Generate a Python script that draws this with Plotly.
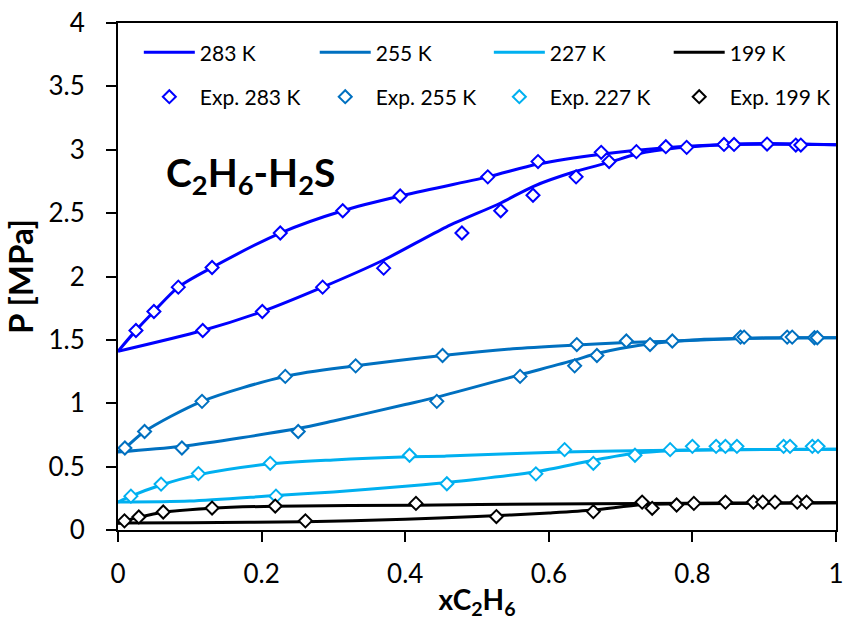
import plotly.graph_objects as go

# ---- model curves (bubble / dew branches) ----
x283_bub = [0, 0.025, 0.05, 0.084, 0.131, 0.226, 0.313, 0.393, 0.515, 0.585, 0.673, 0.763, 0.844, 0.904, 1.0]
p283_bub = [1.41, 1.575, 1.724, 1.916, 2.071, 2.343, 2.519, 2.635, 2.786, 2.887, 2.965, 3.016, 3.042, 3.05, 3.04]
x283_dew = [0, 0.118, 0.201, 0.285, 0.37, 0.457, 0.533, 0.578, 0.638, 0.684, 0.722, 0.78, 0.85, 1.0]
p283_dew = [1.41, 1.574, 1.724, 1.916, 2.13, 2.39, 2.58, 2.71, 2.83, 2.90, 2.965, 3.015, 3.04, 3.04]

x255_bub = [0, 0.0096, 0.037, 0.117, 0.233, 0.331, 0.452, 0.55, 0.639, 0.708, 0.772, 0.867, 0.94, 1.0]
p255_bub = [0.615, 0.647, 0.777, 1.015, 1.212, 1.295, 1.377, 1.43, 1.46, 1.48, 1.49, 1.51, 1.517, 1.517]
x255_dew = [0, 0.089, 0.25, 0.3, 0.4, 0.444, 0.56, 0.636, 0.667, 0.741, 0.8, 0.9, 1.0]
p255_dew = [0.615, 0.66, 0.80, 0.86, 0.99, 1.048, 1.225, 1.34, 1.393, 1.47, 1.50, 1.515, 1.517]

x227_bub = [0, 0.018, 0.06, 0.112, 0.21, 0.3, 0.406, 0.457, 0.62, 0.77, 0.9, 1.0]
p227_bub = [0.22, 0.267, 0.355, 0.435, 0.52, 0.553, 0.577, 0.583, 0.616, 0.63, 0.636, 0.637]
x227_dew = [0, 0.1, 0.22, 0.3, 0.4, 0.458, 0.5, 0.582, 0.662, 0.72, 0.77, 0.85, 1.0]
p227_dew = [0.22, 0.228, 0.272, 0.30, 0.345, 0.375, 0.40, 0.46, 0.55, 0.605, 0.625, 0.633, 0.637]

x199_bub = [0, 0.009, 0.029, 0.063, 0.131, 0.219, 0.415, 0.6, 0.73, 0.85, 1.0]
p199_bub = [0.05, 0.07, 0.10, 0.14, 0.172, 0.188, 0.196, 0.205, 0.21, 0.213, 0.215]
x199_dew = [0, 0.1, 0.26, 0.4, 0.5, 0.6, 0.662, 0.73, 0.8, 1.0]
p199_dew = [0.055, 0.058, 0.066, 0.085, 0.106, 0.135, 0.158, 0.20, 0.208, 0.215]

# ---- experimental points ----
xexp283 = [0.025, 0.05, 0.084, 0.131, 0.226, 0.313, 0.393, 0.515, 0.585, 0.673, 0.722, 0.763, 0.792,
           0.844, 0.858, 0.904, 0.944, 0.951,
           0.118, 0.201, 0.285, 0.37, 0.479, 0.533, 0.578, 0.638, 0.684]
pexp283 = [1.574, 1.724, 1.916, 2.071, 2.343, 2.519, 2.635, 2.786, 2.907, 2.98, 2.985, 3.024, 3.019,
           3.042, 3.042, 3.045, 3.037, 3.037,
           1.574, 1.724, 1.916, 2.066, 2.343, 2.519, 2.641, 2.786, 2.907]

xexp255 = [0.0096, 0.037, 0.117, 0.233, 0.331, 0.452, 0.639, 0.708, 0.772, 0.867, 0.872, 0.932, 0.939,
           0.970, 0.974,
           0.089, 0.251, 0.444, 0.560, 0.636, 0.667, 0.741]
pexp255 = [0.647, 0.777, 1.015, 1.212, 1.295, 1.377, 1.463, 1.491, 1.491, 1.522, 1.522, 1.522, 1.522,
           1.517, 1.517,
           0.647, 0.777, 1.015, 1.212, 1.295, 1.377, 1.463]

xexp227 = [0.018, 0.06, 0.112, 0.212, 0.406, 0.622, 0.80, 0.833, 0.846, 0.862, 0.927, 0.936, 0.967, 0.975,
           0.220, 0.458, 0.582, 0.662, 0.720, 0.769]
pexp227 = [0.267, 0.362, 0.445, 0.526, 0.590, 0.634, 0.660, 0.660, 0.660, 0.660, 0.660, 0.660, 0.660, 0.660,
           0.267, 0.365, 0.443, 0.526, 0.590, 0.634]

xexp199 = [0.009, 0.029, 0.063, 0.131, 0.219, 0.415, 0.730, 0.778, 0.802, 0.846, 0.885, 0.898, 0.915,
           0.946, 0.959,
           0.261, 0.527, 0.662, 0.744]
pexp199 = [0.072, 0.103, 0.142, 0.173, 0.189, 0.210, 0.220, 0.197, 0.210, 0.220, 0.220, 0.220, 0.220,
           0.220, 0.220,
           0.072, 0.106, 0.145, 0.171]

x_ticks = [0, 0.2, 0.4, 0.6, 0.8, 1]
x_tick_text = ["0", "0.2", "0.4", "0.6", "0.8", "1"]
y_ticks = [0, 0.5, 1, 1.5, 2, 2.5, 3, 3.5, 4]
y_tick_text = ["0", "0.5", "1", "1.5", "2", "2.5", "3", "3.5", "4"]

FONT = "Lato"

series = [
    ("283 K", "#0000FF", x283_bub, p283_bub, x283_dew, p283_dew, xexp283, pexp283),
    ("255 K", "#0070C0", x255_bub, p255_bub, x255_dew, p255_dew, xexp255, pexp255),
    ("227 K", "#00B0F0", x227_bub, p227_bub, x227_dew, p227_dew, xexp227, pexp227),
    ("199 K", "#000000", x199_bub, p199_bub, x199_dew, p199_dew, xexp199, pexp199),
]

# legend grid: one legend box per entry (4 columns x 2 rows)
legend_cols = [0.029, 0.274, 0.5165, 0.767]
legend_rows = [0.9415, 0.854]

fig = go.Figure()

# model lines: bubble and dew branches of one isotherm joined by a gap
for i, (name, col, xb, pb, xd, pd_, _, _) in enumerate(series):
    fig.add_trace(go.Scatter(
        x=xb + [None] + xd, y=pb + [None] + pd_,
        mode="lines", name=name, connectgaps=False, showlegend=True,
        line=dict(color=col, width=3, shape="spline", smoothing=0.8),
        legend="legend" if i == 0 else f"legend{i + 1}",
    ))

# experimental points
for i, (name, col, _, _, _, _, xe, pe) in enumerate(series):
    fig.add_trace(go.Scatter(
        x=xe, y=pe, mode="markers", name="Exp. " + name, showlegend=True,
        marker=dict(symbol="diamond", size=10, color="white",
                    line=dict(color=col, width=2)),
        legend=f"legend{i + 5}",
    ))

fig.add_annotation(
    text="<b>C<sub>2</sub>H<sub>6</sub>-H<sub>2</sub>S</b>",
    xref="paper", yref="paper", x=0.064, y=0.70, xanchor="left", yanchor="middle",
    showarrow=False, font=dict(family=FONT, size=39, color="black"),
)

legend_style = dict(
    orientation="h", xanchor="left", yanchor="middle",
    bgcolor="rgba(0,0,0,0)", borderwidth=0,
    font=dict(family=FONT, size=21, color="black"),
    itemwidth=51,
)
legends = {}
for r, ly in enumerate(legend_rows):
    for c, lx in enumerate(legend_cols):
        k = r * 4 + c + 1
        key = "legend" if k == 1 else f"legend{k}"
        legends[key] = dict(x=lx, y=ly, **legend_style)

fig.update_layout(
    width=850, height=626,
    margin=dict(l=118, r=6, t=18, b=96),
    paper_bgcolor="white", plot_bgcolor="white",
    font=dict(family=FONT, color="black"),
    showlegend=True,
    xaxis=dict(
        range=[0, 1], tickvals=x_ticks, ticktext=x_tick_text,
        showgrid=False, zeroline=False,
        showline=True, linecolor="black", linewidth=2, mirror=True,
        ticks="outside", ticklen=10, tickwidth=2, tickcolor="black",
        ticklabelstandoff=10,
        tickfont=dict(family=FONT, size=26, color="black"),
        title=dict(text="<b>xC<sub>2</sub>H<sub>6</sub></b>",
                   font=dict(family=FONT, size=28, color="black"), standoff=2),
    ),
    yaxis=dict(
        range=[0, 4], tickvals=y_ticks, ticktext=y_tick_text,
        showgrid=False, zeroline=False,
        showline=True, linecolor="black", linewidth=2, mirror=True,
        ticks="outside", ticklen=10, tickwidth=2, tickcolor="black",
        ticklabelstandoff=16,
        tickfont=dict(family=FONT, size=26, color="black"),
        title=dict(text="<b>P [MPa]</b>",
                   font=dict(family=FONT, size=33, color="black"), standoff=10),
    ),
    **legends,
)

fig.write_html("out.html")
